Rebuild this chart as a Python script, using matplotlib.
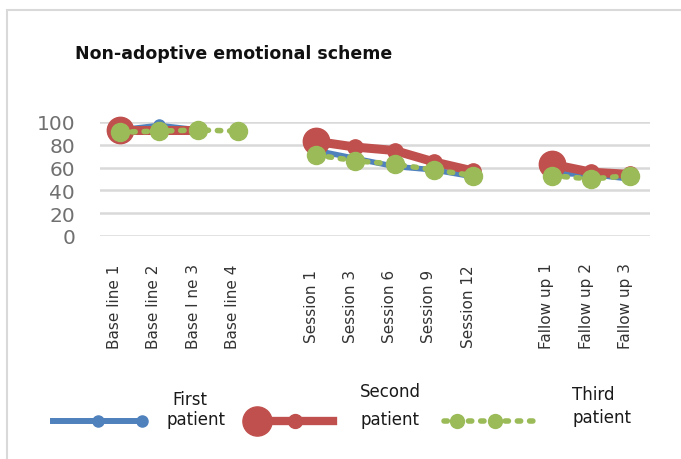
import numpy as np
import matplotlib
matplotlib.use("Agg")
import matplotlib.pyplot as plt
from matplotlib.lines import Line2D
from matplotlib.patches import Rectangle
import matplotlib.transforms as mtransforms

# Chart data
baseline_labels = ['Base line 1', 'Base line 2', 'Base l ne 3', 'Base line 4']
session_labels = ['Session 1', 'Session 3', 'Session 6', 'Session 9', 'Session 12']
followup_labels = ['Fallow up 1', 'Fallow up 2', 'Fallow up 3']

first_baseline = [93, 97, 93, np.nan]
first_session = [75, 68, 61, 58, 52]
first_followup = [55, 54, 50]

second_baseline = [93, 93, 93, np.nan]
second_session = [83, 78, 75, 65, 57]
second_followup = [63, 56, 54]

third_baseline = [91, 92, 93, 92]
third_session = [71, 66, 63, 58, 53]
third_followup = [53, 50, 53]

y_ticks = [0, 20, 40, 60, 80, 100]

BLUE = '#4F81BD'
RED = '#C0504D'
GREEN = '#9BBB59'

W, H = 681, 460
fig = plt.figure(figsize=(W / 100, H / 100), dpi=100)

# outer chart border
fig.add_artist(Rectangle((7 / W, -0.05), 1.1, 1 - 11 / H + 0.05, transform=fig.transFigure,
                         fill=False, edgecolor='#d9d9d9', lw=1.5))

# group positions with one empty slot between groups
groups = [baseline_labels, session_labels, followup_labels]
positions = []
start = 0
for g in groups:
    positions.append(list(range(start, start + len(g))))
    start += len(g) + 1
all_pos = [p for g in positions for p in g]
all_labels = [l for g in groups for l in g]

ax = fig.add_axes([100 / W, 1 - 237 / H, 550 / W, 114 / H])
ax.set_xlim(-0.5, start - 1.5)
ax.set_ylim(0, 100)
for s in ax.spines.values():
    s.set_visible(False)
ax.set_yticks(y_ticks)
ax.yaxis.grid(True, color='#d9d9d9', lw=1.8)
ax.set_axisbelow(True)
ax.tick_params(axis='y', length=0, pad=18, labelsize=14.5, labelcolor='#707070')
ax.set_xticks(all_pos)
ax.set_xticklabels(all_labels, rotation=90, fontsize=11, color='#333333', va='center')
ax.tick_params(axis='x', length=0, pad=50)
offset = mtransforms.ScaledTranslation(-5 / 100, 0, fig.dpi_scale_trans)
for lab in ax.get_xticklabels():
    lab.set_transform(lab.get_transform() + offset)

first = [first_baseline, first_session, first_followup]
second = [second_baseline, second_session, second_followup]
third = [third_baseline, third_session, third_followup]

for xs, ys in zip(positions, first):
    ax.plot(xs, ys, color=BLUE, lw=4, marker='o', ms=8, clip_on=False, zorder=3)
for xs, ys in zip(positions, second):
    ax.plot(xs, ys, color=RED, lw=6.5, marker='o', ms=11, clip_on=False, zorder=4)
    ax.plot(xs, ys, color=RED, lw=0, marker='o', ms=19, markevery=[0], clip_on=False, zorder=4)
for xs, ys in zip(positions, third):
    ax.plot(xs, ys, color=GREEN, lw=4, ls=(0, (0.6, 1.6)), dash_capstyle='round',
            marker='o', ms=13, clip_on=False, zorder=5)

fig.text(75 / W, 1 - 54 / H, 'Non-adoptive emotional scheme', fontsize=12.5,
         fontweight='bold', color='#111111', va='center', ha='left')

# legend drawn by hand along the bottom
lax = fig.add_axes([0, 0, 1, 92 / H])
lax.set_xlim(0, W)
lax.set_ylim(0, 92)
lax.axis('off')
lax.add_line(Line2D([53, 98, 142], [38, 38, 38], color=BLUE, lw=4.3, marker='o', ms=8,
                    markevery=[1, 2]))
lax.add_line(Line2D([257, 295, 333], [38, 38, 38], color=RED, lw=6, marker='o', ms=10,
                    markevery=[1]))
lax.add_line(Line2D([257], [38], color=RED, lw=0, marker='o', ms=21))
lax.add_line(Line2D([444, 538], [38, 38], color=GREEN, lw=4, ls=(0, (0.6, 1.6)),
                    dash_capstyle='round'))
lax.add_line(Line2D([457, 495], [38, 38], color=GREEN, lw=0, marker='o', ms=10))

tkw = dict(fontsize=12, color='#1a1a1a', va='center', ha='left')
lax.text(172, 60, 'First', **tkw)
lax.text(166, 40, 'patient', **tkw)
lax.text(360, 68, 'Second', **tkw)
lax.text(360, 40, 'patient', **tkw)
lax.text(572, 65, 'Third', **tkw)
lax.text(572, 42, 'patient', **tkw)

fig.savefig('out.png', dpi=100)
